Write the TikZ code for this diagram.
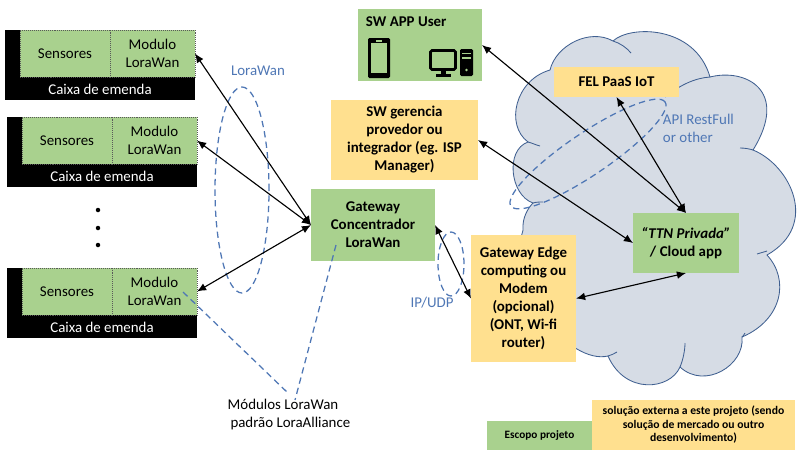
\documentclass[tikz,border=0pt]{standalone}
\usepackage{fontspec}
\setmainfont{Carlito}
\usetikzlibrary{arrows.meta,shapes.geometric}
\definecolor{boxgreen}{HTML}{A9D18E}
\definecolor{boxyellow}{HTML}{FFE08F}
\definecolor{cloudfill}{HTML}{D6DCE5}
\definecolor{cloudline}{HTML}{3F5F90}
\definecolor{ringblue}{HTML}{4F77B5}
\tikzset{
    sized/.style n args={2}{minimum width=#1*0.025cm, minimum height=#2*0.025cm, inner sep=0pt, outer sep=0pt},
    maintext/.style={font=\fontsize{10.6}{12.8}\selectfont, align=center},
    greenbox/.style={fill=boxgreen, maintext, font=\fontsize{10.6}{12.8}\selectfont\bfseries},
    yellowbox/.style={fill=boxyellow, maintext, font=\fontsize{10.6}{12.8}\selectfont\bfseries},
    partbox/.style={fill=boxgreen, draw=black!65, densely dotted, thin, maintext},
    ringtext/.style={text=ringblue, font=\fontsize{10.6}{12.8}\selectfont},
    ring/.style={draw=ringblue, dash pattern=on 4.5pt off 3pt, line width=0.9pt},
    link/.style={<->, line width=0.8pt},
    cloudedge/.style={draw=cloudline, line width=0.6pt},
}
\begin{document}
\begin{tikzpicture}[x=0.025cm, y=-0.025cm, >={Latex[length=6.5pt,width=5.5pt]}]
    \useasboundingbox (0,0) rectangle (800,450);

    \draw[cloudedge, fill=cloudfill] (550,70)
        .. controls (556,45) and (590,28) .. (613,41)
        .. controls (630,25) and (695,25) .. (710,77)
        .. controls (745,68) and (790,90) .. (753,150)
        .. controls (790,165) and (820,225) .. (767,255)
        .. controls (790,280) and (782,320) .. (742,337)
        .. controls (745,365) and (705,390) .. (680,367)
        .. controls (670,390) and (625,395) .. (608,356)
        .. controls (570,365) and (505,290) .. (523,230)
        .. controls (522,218) and (528,208) .. (533,203)
        .. controls (510,195) and (505,150) .. (528,142)
        .. controls (505,125) and (515,80) .. (550,70) -- cycle;
    \draw[cloudedge] (613,41) .. controls (620,43) and (627,48) .. (631,53);
    \draw[cloudedge] (665,97) .. controls (680,85) and (695,78) .. (710,77);
    \draw[cloudedge] (740,148) .. controls (745,148) and (750,149) .. (753,150);
    \draw[cloudedge] (757,254) .. controls (760,253) and (764,252) .. (767,251);
    \draw[cloudedge] (742,337) .. controls (743,336) and (744,335) .. (745,333);
    \draw[cloudedge] (680,367) .. controls (683,360) and (685,350) .. (685,343);
    \draw[cloudedge] (608,356) .. controls (611,355) and (614,354) .. (617,352);
    \draw[cloudedge] (528,142) .. controls (532,143) and (536,145) .. (540,146);
    \draw[cloudedge] (533,203) .. controls (536,202) and (540,202) .. (543,202);

    \foreach \n/\x/\y in {1/5/30, 2/7/117, 3/7/268} {
        \node[sized={190}{70}, fill=black] (caixa\n) at (\x+95,\y+35) {};
        \node[sized={90}{47}, partbox] (sensores\n) at (\x+60,\y+23.5) {Sensores};
        \node[sized={85}{47}, partbox] (modulo\n) at (\x+147.5,\y+23.5) {Modulo\\LoraWan};
        \node[maintext, text=white] (caixatext\n) at (\x+95,\y+59) {Caixa de emenda};
    }
    \node[circle, fill=black, sized={4.5}{4.5}] (dot1) at (98,210) {};
    \node[circle, fill=black, sized={4.5}{4.5}] (dot2) at (98,228) {};
    \node[circle, fill=black, sized={4.5}{4.5}] (dot3) at (98,245) {};

    \node[sized={124}{72}, greenbox] (appuser) at (420,45) {};
    \node[greenbox, fill=none, anchor=west] (apptitle) at (361,22) {SW APP User};
    \fill[black, rounded corners=1pt] (368,38) rectangle (390,78);
    \fill[boxgreen] (371,43) rectangle (387,73);
    \fill[boxgreen] (376,40) rectangle (382,41.5);
    \draw[black, line width=1.9pt, rounded corners=1pt] (430.5,50.5) rectangle (455.5,69.5);
    \fill[black] (441,70) rectangle (446,74);
    \fill[black] (436,74) rectangle (451,76.5);
    \fill[black, rounded corners=1pt] (460,49) rectangle (473,76);
    \fill[boxgreen] (462,52.5) rectangle (471,54);
    \fill[boxgreen] (462,57) rectangle (471,58.5);
    \fill[boxgreen] (466.5,70) circle (1.4);

    \node[sized={147}{80}, yellowbox] (gerencia) at (404.5,140) {SW gerencia\\provedor ou\\integrador  (eg. ISP\\Manager)};
    \node[sized={125}{30}, yellowbox] (fel) at (616.5,82) {FEL PaaS IoT};
    \node[sized={124}{72}, greenbox] (gateway) at (373,225) {Gateway\\Concentrador\\LoraWan};
    \node[sized={105}{127}, yellowbox] (edge) at (523.5,298.5) {Gateway Edge\\computing ou\\Modem\\(opcional)\\(ONT, Wi-fi\\router)};
    \node[sized={106}{60}, greenbox] (ttn) at (686,243) {\textit{“TTN Privada”}\\/ Cloud app};

    \node[sized={105}{29}, fill=boxgreen, font=\fontsize{8}{9.6}\selectfont\bfseries] (escopo) at (539.5,435.5) {Escopo projeto};
    \node[sized={203}{50}, fill=boxyellow, align=center, font=\fontsize{8.3}{9.6}\selectfont\bfseries] (externa) at (693.5,425) {solução externa a este projeto (sendo\\solução de mercado ou outro\\desenvolvimento)};

    \node[ring, ellipse, sized={54}{206}] (lorawanring) at (242,190) {};
    \node[ring, ellipse, sized={26}{64}] (ipudpring) at (451,264) {};
    \node[ring, ellipse, sized={186}{42}, rotate=34] (apiring) at (588,154) {};

    \node[ringtext] (lorawantext) at (258,71) {LoraWan};
    \node[ringtext] (ipudptext) at (432,303) {IP/UDP};
    \node[ringtext, align=left, anchor=west] (apitext) at (658,128) {API RestFull\\or other};
    \node[maintext, align=left] (padrao) at (289,415) {Módulos LoraWan\\\hspace*{2pt}padrão LoraAlliance};

    \draw[link] (modulo1.east) -- (gateway.west);
    \draw[link] (modulo2.east) -- (gateway.west);
    \draw[link] (modulo3.east) -- (gateway.west);
    \draw[link] (gateway.east) -- (edge.west);
    \draw[link] (edge.east) -- (ttn.south);
    \draw[link] (gerencia.east) -- (ttn.west);
    \draw[link] (appuser.east) -- (ttn.north);
    \draw[link] (fel.south) -- (ttn.north);

    \coordinate (padraoleft) at (288,393);
    \coordinate (padraoright) at (295,400);
    \coordinate (moduloin) at (183,292);
    \coordinate (gatewayin) at (336,245);
    \draw[ring] (moduloin) -- (padraoleft);
    \draw[ring] (gatewayin) -- (padraoright);
\end{tikzpicture}
\end{document}
